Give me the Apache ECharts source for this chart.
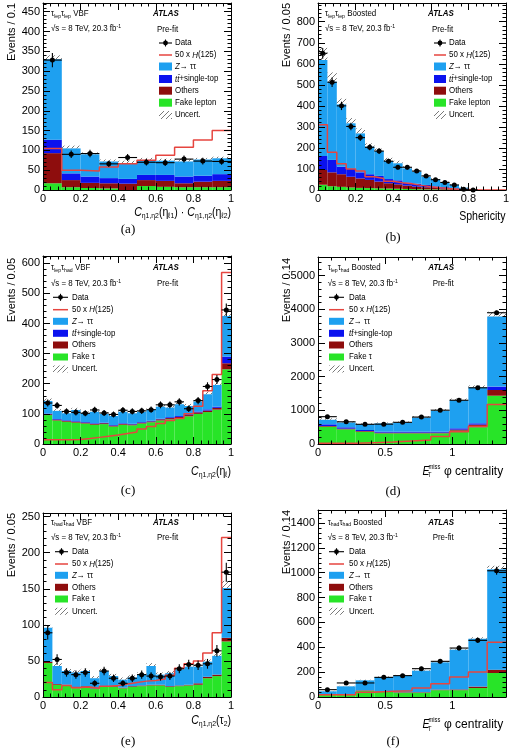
<!DOCTYPE html>
<html>
<head>
<meta charset="utf-8">
<script src="https://cdn.jsdelivr.net/npm/echarts@6/dist/echarts.min.js"></script>
<style>
  html, body { margin: 0; padding: 0; background: #fff; }
  #chart { width: 510px; height: 750px; }
</style>
</head>
<body>
<div id="chart"></div>
<script>
// ATLAS H->tautau BDT input distributions, pre-fit, 6 panels

const FONT = 'Liberation Sans';
const COL = { ztt: '#1ea0f0', top: '#0b12ef', oth: '#8e0d0d', fake: '#28e428', hig: '#e6453f' };

// (a) tau_lep tau_lep VBF, 10 bins in [0, 1]
const aFake   = [17, 7, 5, 4, 0, 10, 8, 7, 7, 7];
const aOthers = [76, 18, 13, 13, 16, 15, 15, 10, 14, 16];
const aTop    = [34, 17, 16, 13, 12, 13, 15, 17, 15, 17];
const aZtt    = [203, 63, 56, 42, 40, 38, 36, 38, 41, 40];
const aUnc    = [10, 7, 5, 5, 6, 5, 5, 6, 4, 4];
const aData   = [328, 90, 92, 66, 82, 70, 69, 78, 73, 72];
const aHiggs  = [105, 50, 48, 58, 66, 75, 88, 108, 126, 150];

// (b) tau_lep tau_lep Boosted, sphericity, 20 bins in [0, 1]
const bFake   = [25, 18, 15, 12, 10, 9, 8, 7, 6, 5, 4, 3, 3, 2, 1, 1, 0, 0, 0, 0];
const bOthers = [70, 66, 60, 51, 45, 39, 32, 25, 21, 16, 12, 10, 7, 4, 4, 1, 0, 0, 0, 0];
const bTop    = [67, 59, 36, 37, 29, 27, 27, 20, 19, 15, 14, 11, 7, 7, 3, 1, 0, 0, 0, 0];
const bZtt    = [456, 372, 296, 217, 185, 131, 118, 86, 81, 67, 57, 39, 34, 23, 16, 8, 2, 0, 0, 0];
const bUnc    = [58, 44, 28, 25, 24, 16, 12, 15, 12, 10, 8, 6, 5, 4, 3, 2, 1, 0, 0, 0];
const bData   = [650, 512, 400, 302, 249, 203, 185, 137, 108, 108, 90, 67, 49, 36, 24, 3, 0, null, null, null];
const bHiggs  = [310, 180, 125, 100, 90, 63, 55, 42, 35, 30, 22, 16, 11, 7, 4, 2, 0, 0, 0, 0];

// (c) tau_lep tau_had VBF, 20 bins in [0, 1]
const cFake   = [96, 78, 74, 71, 68, 64, 66, 58, 64, 62, 68, 72, 78, 82, 86, 92, 100, 106, 114, 248];
const cOthers = [3, 3, 3, 3, 3, 3, 3, 3, 3, 3, 3, 3, 4, 4, 4, 4, 5, 5, 6, 20];
const cTop    = [2, 2, 2, 2, 2, 2, 2, 2, 2, 2, 2, 2, 2, 3, 3, 3, 3, 4, 4, 22];
const cZtt    = [42, 27, 23, 37, 29, 38, 29, 30, 38, 35, 34, 36, 40, 32, 39, 27, 33, 50, 72, 135];
const cUnc    = [8, 6, 6, 7, 6, 6, 6, 6, 6, 6, 6, 6, 7, 7, 7, 7, 8, 9, 10, 12];
const cData   = [136, 128, 108, 105, 102, 113, 103, 98, 112, 108, 110, 114, 130, 130, 140, 117, 144, 191, 214, 445];
const cHiggs  = [14, 14, 14, 15, 18, 22, 26, 30, 35, 40, 50, 58, 68, 78, 85, 100, 125, 177, 231, 569];

// (d) tau_lep tau_had Boosted, MET phi centrality, 10 bins in [0, 1.4]
const dFake   = [515, 436, 366, 317, 317, 317, 317, 396, 495, 1435];
const dOthers = [20, 20, 20, 20, 20, 20, 20, 30, 80, 170];
const dTop    = [50, 40, 30, 30, 30, 30, 30, 40, 40, 100];
const dZtt    = [135, 144, 169, 243, 268, 418, 623, 834, 1065, 2085];
const dUnc    = [45, 35, 30, 30, 35, 40, 45, 50, 60, 140];
const dData   = [812, 660, 585, 590, 644, 800, 1005, 1300, 1670, 3900];
const dHiggs  = [20, 20, 40, 60, 90, 120, 220, 365, 530, 1170];

// (e) tau_had tau_had VBF, 20 bins in [0, 1]
const eFake   = [47, 17, 16, 12, 14, 11, 14, 14, 12, 14, 15, 16, 16, 14, 15, 16, 17, 26, 29, 77];
const eOthers = [2, 1, 1, 1, 1, 1, 1, 1, 1, 1, 1, 1, 1, 1, 1, 1, 2, 2, 2, 5];
const eZtt    = [47, 25, 19, 21, 21, 14, 21, 14, 11, 12, 15, 26, 14, 18, 22, 25, 23, 21, 26, 69];
const eUnc    = [4, 4, 3, 3, 3, 3, 3, 3, 3, 3, 3, 4, 3, 3, 3, 3, 3, 3, 4, 10];
const eData   = [89, 52, 34, 31, 34, 19, 36, 26, 19, 26, 31, 29, 28, 29, 39, 45, 44, 46, 64, 173];
const eHiggs  = [20, 10, 16, 13, 14, 12, 15, 16, 18, 20, 22, 23, 25, 30, 40, 46, 50, 61, 89, 221];

// (f) tau_had tau_had Boosted, MET phi centrality, 10 bins in [0, 1.4]
const fFake   = [15, 15, 50, 43, 35, 35, 55, 55, 72, 193];
const fOthers = [4, 4, 4, 4, 4, 4, 5, 6, 12, 27];
const fZtt    = [27, 67, 80, 114, 133, 173, 219, 320, 385, 809];
const fUnc    = [3, 4, 5, 5, 6, 7, 8, 10, 12, 27];
const fData   = [59, 113, 113, 158, 172, 228, 287, 394, 456, 1016];
const fHiggs  = [19, 19, 38, 46, 51, 72, 107, 161, 201, 440];

const panels = [
  { grid: [43, 3, 188, 187], xmax: 1, nb: 10, xint: 0.2, xMinor: 0.04, ymax: 472, yint: 50, yMinor: 10,
    stack: [[aFake, COL.fake], [aOthers, COL.oth], [aTop, COL.top], [aZtt, COL.ztt]], unc: aUnc, data: aData, higgs: aHiggs },
  { grid: [318, 3, 188, 187], xmax: 1, nb: 20, xint: 0.2, xMinor: 0.04, ymax: 889, yint: 100, yMinor: 20,
    stack: [[bFake, COL.fake], [bOthers, COL.oth], [bTop, COL.top], [bZtt, COL.ztt]], unc: bUnc, data: bData, higgs: bHiggs },
  { grid: [43, 256, 188, 188], xmax: 1, nb: 20, xint: 0.2, xMinor: 0.04, ymax: 624, yint: 100, yMinor: 20,
    stack: [[cFake, COL.fake], [cOthers, COL.oth], [cTop, COL.top], [cZtt, COL.ztt]], unc: cUnc, data: cData, higgs: cHiggs },
  { grid: [318, 257, 188, 187], xmax: 1.4, nb: 10, xint: 0.5, xMinor: 0.1, ymax: 5556, yint: 1000, yMinor: 200,
    stack: [[dFake, COL.fake], [dOthers, COL.oth], [dTop, COL.top], [dZtt, COL.ztt]], unc: dUnc, data: dData, higgs: dHiggs },
  { grid: [43, 513, 188, 184], xmax: 1, nb: 20, xint: 0.2, xMinor: 0.04, ymax: 255, yint: 50, yMinor: 10,
    stack: [[eFake, COL.fake], [eOthers, COL.oth], [eZtt, COL.ztt]], unc: eUnc, data: eData, higgs: eHiggs },
  { grid: [318, 510, 188, 187], xmax: 1.4, nb: 10, xint: 0.5, xMinor: 0.1, ymax: 1505, yint: 200, yMinor: 40,
    stack: [[fFake, COL.fake], [fOthers, COL.oth], [fZtt, COL.ztt]], unc: fUnc, data: fData, higgs: fHiggs }
];

// hatch pattern for the uncertainty band
const hatchCanvas = document.createElement('canvas');
hatchCanvas.width = 5; hatchCanvas.height = 5;
const hctx = hatchCanvas.getContext('2d');
hctx.strokeStyle = '#7a7a7a'; hctx.lineWidth = 1;
hctx.beginPath();
hctx.moveTo(0, 5); hctx.lineTo(5, 0);
hctx.moveTo(-2.5, 2.5); hctx.lineTo(2.5, -2.5);
hctx.moveTo(2.5, 7.5); hctx.lineTo(7.5, 2.5);
hctx.stroke();
const HATCH = { image: hatchCanvas, repeat: 'repeat' };

function onStep(v, step) {
  const r = v / step;
  return Math.abs(r - Math.round(r)) < 1e-6;
}

function axis(gridIndex, max, step, pos, len, labels, line) {
  return {
    type: 'value', gridIndex, min: 0, max, interval: step, position: pos, z: 10,
    axisLine: { show: line, onZero: false, lineStyle: { color: '#000', width: 1 } },
    axisTick: { show: true, inside: true, length: len, lineStyle: { color: '#000', width: 1 } },
    axisLabel: {
      show: labels, color: '#000', fontFamily: FONT, fontSize: 11, margin: 3, hideOverlap: false,
      formatter: v => onStep(v, step) ? String(+v.toFixed(3)) : ''
    },
    splitLine: { show: false }
  };
}

function rectItem(params, api) {
  const a = api.coord([api.value(0), api.value(3)]);
  const b = api.coord([api.value(1), api.value(2)]);
  return { type: 'rect', shape: { x: a[0], y: a[1], width: b[0] - a[0], height: b[1] - a[1] },
           style: { fill: api.visual('color') } };
}

function hatchItem(params, api) {
  const a = api.coord([api.value(0), api.value(3)]);
  const b = api.coord([api.value(1), api.value(2)]);
  return { type: 'rect', shape: { x: a[0], y: a[1], width: b[0] - a[0], height: b[1] - a[1] },
           style: { fill: HATCH } };
}

function dataItem(params, api) {
  const xc = api.value(0), y = api.value(1), hw = api.value(2), e = api.value(3);
  const c = api.coord([xc, y]);
  const l = api.coord([xc - hw, y]), r = api.coord([xc + hw, y]);
  const t = api.coord([xc, y + e]), b = api.coord([xc, Math.max(0, y - e)]);
  const st = { stroke: '#000', lineWidth: 1.1 };
  return { type: 'group', children: [
    { type: 'line', shape: { x1: l[0], y1: l[1], x2: r[0], y2: r[1] }, style: st },
    { type: 'line', shape: { x1: t[0], y1: t[1], x2: b[0], y2: b[1] }, style: st },
    { type: 'circle', shape: { cx: c[0], cy: c[1], r: 2.5 }, style: { fill: '#000' } }
  ] };
}

const grids = [], xAxes = [], yAxes = [], series = [];

panels.forEach((p, k) => {
  const [l, t, w, h] = p.grid;
  const g = { left: l, top: t, width: w, height: h, containLabel: false, outerBoundsMode: 'none' };
  grids.push(Object.assign({}, g), Object.assign({}, g));
  const g0 = 2 * k, g1 = 2 * k + 1;
  xAxes.push(axis(g0, p.xmax, p.xint, 'bottom', 7, true, true));
  xAxes.push(axis(g0, p.xmax, p.xint, 'top', 7, false, true));
  xAxes.push(axis(g1, p.xmax, p.xMinor, 'bottom', 3.5, false, false));
  xAxes.push(axis(g1, p.xmax, p.xMinor, 'top', 3.5, false, false));
  yAxes.push(axis(g0, p.ymax, p.yint, 'left', 7, true, true));
  yAxes.push(axis(g0, p.ymax, p.yint, 'right', 7, false, true));
  yAxes.push(axis(g1, p.ymax, p.yMinor, 'left', 3.5, false, false));
  yAxes.push(axis(g1, p.ymax, p.yMinor, 'right', 3.5, false, false));

  const xi = 4 * k, yi = 4 * k;
  const bw = p.xmax / p.nb;
  const base = new Array(p.nb).fill(0);

  // stacked backgrounds
  p.stack.forEach(([vals, color]) => {
    const items = vals.map((v, i) => {
      const it = [i * bw, (i + 1) * bw, base[i], base[i] + v];
      base[i] += v;
      return it;
    });
    series.push({ type: 'custom', xAxisIndex: xi, yAxisIndex: yi, z: 2, silent: true,
                  itemStyle: { color }, renderItem: rectItem, data: items });
  });

  // uncertainty band on top of the stack
  series.push({ type: 'custom', xAxisIndex: xi, yAxisIndex: yi, z: 3, silent: true, renderItem: hatchItem,
                data: p.unc.map((u, i) => [i * bw, (i + 1) * bw, base[i], base[i] + u]) });

  // 50 x H(125)
  const hData = p.higgs.map((v, i) => [i * bw, v]);
  hData.push([p.xmax, p.higgs[p.nb - 1]]);
  series.push({ type: 'line', xAxisIndex: xi, yAxisIndex: yi, z: 4, silent: true, step: 'end', symbol: 'none',
                lineStyle: { color: COL.hig, width: 1.5 }, data: hData });

  // data points
  const dItems = [];
  p.data.forEach((v, i) => { if (v != null) dItems.push([(i + 0.5) * bw, v, bw / 2, Math.sqrt(v)]); });
  series.push({ type: 'custom', xAxisIndex: xi, yAxisIndex: yi, z: 5, silent: true, renderItem: dataItem, data: dItems });
});

// ---------- annotations ----------
function rich(fs) {
  return {
    s: { fontFamily: FONT, fontSize: fs * 0.65, padding: [fs * 0.55, 0, 0, 0], fill: '#000' },
    u: { fontFamily: FONT, fontSize: fs * 0.65, padding: [0, 0, fs * 0.55, 0], fill: '#000' },
    i: { fontFamily: FONT, fontSize: fs, fontStyle: 'italic', fill: '#000' }
  };
}

function T(x, y, text, o = {}) {
  const fs = o.fs || 9;
  return {
    type: 'text', x, y, scaleX: o.sx == null ? 0.88 : o.sx, rotation: o.rot || 0, z: 100, silent: true,
    style: {
      text, fill: '#000', fontFamily: o.ff || FONT, fontSize: fs,
      fontWeight: o.fw || 'normal', fontStyle: o.it ? 'italic' : 'normal',
      align: o.al || 'left', verticalAlign: 'middle', rich: rich(fs)
    }
  };
}

const graphics = [];

const LEG = {
  data:  'Data',
  higgs: '50 x {i|H}(125)',
  ztt:   '{i|Z}→ ττ',
  top:   '{i|tt̄}+single-top',
  oth:   'Others',
  unc:   'Uncert.'
};

function legend(x0, x1, tx, ys, keys, fakeName, rh) {
  keys.forEach((key, j) => {
    const y = ys[j];
    const w = x1 - x0;
    if (key === 'data') {
      graphics.push({ type: 'line', shape: { x1: x0, y1: y, x2: x1, y2: y }, style: { stroke: '#000', lineWidth: 1.1 }, z: 100 });
      graphics.push({ type: 'line', shape: { x1: (x0 + x1) / 2, y1: y - 3.5, x2: (x0 + x1) / 2, y2: y + 3.5 }, style: { stroke: '#000', lineWidth: 1.1 }, z: 100 });
      graphics.push({ type: 'circle', shape: { cx: (x0 + x1) / 2, cy: y, r: 2.4 }, style: { fill: '#000' }, z: 100 });
    } else if (key === 'higgs') {
      graphics.push({ type: 'line', shape: { x1: x0, y1: y, x2: x1, y2: y }, style: { stroke: COL.hig, lineWidth: 1.5 }, z: 100 });
    } else {
      const fill = key === 'unc' ? HATCH : COL[key];
      graphics.push({ type: 'rect', shape: { x: x0, y: y - rh / 2, width: w, height: rh }, style: { fill }, z: 100 });
    }
    const name = key === 'fake' ? fakeName : LEG[key];
    graphics.push(T(tx, y, name));
  });
}

function header(cx, cy, chan, atlasX, rootsY, preX, preY) {
  graphics.push(T(cx, cy, chan));
  graphics.push(T(atlasX, cy, 'ATLAS', { fw: 'bold', it: true, fs: 9 }));
  graphics.push(T(cx, rootsY, '√s = 8 TeV, 20.3 fb{u|-1}'));
  graphics.push(T(preX, preY, 'Pre-fit'));
}

function etTitle(y) {
  graphics.push(T(444, y, 'φ centrality', { fs: 12, sx: 1 }));
  graphics.push(T(422.5, y, 'E', { fs: 12, it: true }));
  graphics.push(T(428.5, y - 4.5, 'miss', { fs: 6.5 }));
  graphics.push(T(428, y + 4, 'T', { fs: 6.5 }));
}

const keysFull = ['data', 'higgs', 'ztt', 'top', 'oth', 'fake', 'unc'];
const keysHad  = ['data', 'higgs', 'ztt', 'oth', 'fake', 'unc'];
const ysTop = [43, 55, 66.5, 79, 90.7, 102.7, 115];
const ysMid = [297.3, 309.7, 321.3, 333.3, 345, 357, 369];
const ysBot = [551.7, 564, 575.3, 587.3, 599, 611.3];

// (a)
header(51, 14, 'τ{s|lep}τ{s|lep} VBF', 153, 29, 157, 30);
legend(159, 172, 175, ysTop, keysFull, 'Fake lepton', 8);
graphics.push(T(12, 3, 'Events / 0.1', { rot: Math.PI / 2, al: 'right', fs: 11, sx: 1 }));
graphics.push(T(231, 213, '{i|C}{s|η1,η2}(η{s|ℓ1}) · {i|C}{s|η1,η2}(η{s|ℓ2})', { al: 'right', fs: 12 }));
graphics.push(T(128, 230, '(a)', { al: 'center', fs: 13, sx: 1, ff: 'Liberation Serif' }));

// (b)
header(325, 14, 'τ{s|lep}τ{s|lep} Boosted', 428, 29, 432, 30);
legend(434, 446, 449, ysTop, keysFull, 'Fake lepton', 8);
graphics.push(T(287, 3, 'Events / 0.05', { rot: Math.PI / 2, al: 'right', fs: 11, sx: 1 }));
graphics.push(T(505.5, 216.7, 'Sphericity', { al: 'right', fs: 12 }));
graphics.push(T(393, 238, '(b)', { al: 'center', fs: 13, sx: 1, ff: 'Liberation Serif' }));

// (c)
header(51, 267.7, 'τ{s|lep}τ{s|had} VBF', 153, 284, 157, 284);
legend(53, 68, 72, ysMid, keysFull, 'Fake τ', 7);
graphics.push(T(12, 258, 'Events / 0.05', { rot: Math.PI / 2, al: 'right', fs: 11, sx: 1 }));
graphics.push(T(231, 471.7, '{i|C}{s|η1,η2}(η{s|ℓ})', { al: 'right', fs: 12 }));
graphics.push(T(128, 490.7, '(c)', { al: 'center', fs: 13, sx: 1, ff: 'Liberation Serif' }));

// (d)
header(327.7, 267.7, 'τ{s|lep}τ{s|had} Boosted', 428.3, 284, 432.7, 284);
legend(329, 344, 349, ysMid, keysFull, 'Fake τ', 7);
graphics.push(T(287, 258, 'Events / 0.14', { rot: Math.PI / 2, al: 'right', fs: 11, sx: 1 }));
etTitle(471.7);
graphics.push(T(393, 491.7, '(d)', { al: 'center', fs: 13, sx: 1, ff: 'Liberation Serif' }));

// (e)
header(51, 522.3, 'τ{s|had}τ{s|had} VBF', 153, 537.7, 157, 538);
legend(55, 68, 72, ysBot, keysHad, 'Fake τ', 7);
graphics.push(T(12, 513, 'Events / 0.05', { rot: Math.PI / 2, al: 'right', fs: 11, sx: 1 }));
graphics.push(T(231, 721, '{i|C}{s|η1,η2}(τ{s|2})', { al: 'right', fs: 12 }));
graphics.push(T(128, 742, '(e)', { al: 'center', fs: 13, sx: 1, ff: 'Liberation Serif' }));

// (f)
header(327.7, 522.3, 'τ{s|had}τ{s|had} Boosted', 428.3, 538, 432.7, 538);
legend(329, 344, 349, ysBot, keysHad, 'Fake τ', 7);
graphics.push(T(287, 510, 'Events / 0.14', { rot: Math.PI / 2, al: 'right', fs: 11, sx: 1 }));
etTitle(725);
graphics.push(T(393, 742, '(f)', { al: 'center', fs: 13, sx: 1, ff: 'Liberation Serif' }));

const chart = echarts.init(document.getElementById('chart'), null, { renderer: 'canvas' });
chart.setOption({
  animation: false,
  backgroundColor: '#fff',
  grid: grids,
  xAxis: xAxes,
  yAxis: yAxes,
  series,
  graphic: { elements: graphics }
});
</script>
</body>
</html>
